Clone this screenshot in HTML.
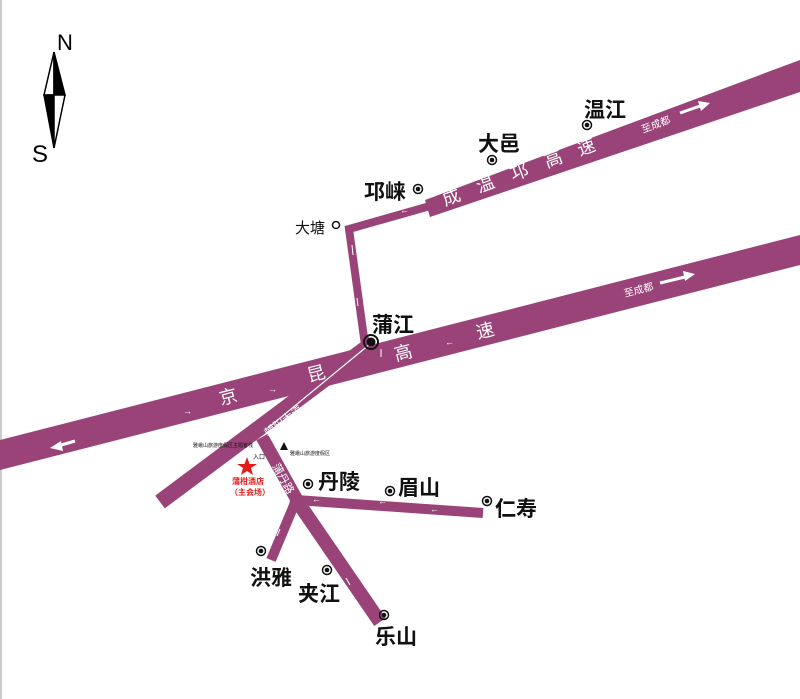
<!DOCTYPE html>
<html><head><meta charset="utf-8"><style>
html,body{margin:0;padding:0;background:#fff;}
svg{display:block;}
text{font-family:"Liberation Sans","Noto Sans CJK SC",sans-serif;}
.b{font-weight:bold;font-size:21px;fill:#111;}
.w{fill:#fff;font-size:18px;}
.ws{fill:#fff;font-size:10px;}
</style></head><body>
<svg width="800" height="699" viewBox="0 0 800 699" xmlns="http://www.w3.org/2000/svg">
<rect x="0" y="0" width="2" height="699" fill="#ccc"/>
<!-- compass -->
<polygon points="54,52 44,95 54,95" fill="#fff" stroke="#000" stroke-width="1.5"/>
<polygon points="54,52 65,95 54,95" fill="#000" stroke="#000" stroke-width="1.5"/>
<polygon points="44,95 54,148 54,95" fill="#000" stroke="#000" stroke-width="1.5"/>
<polygon points="65,95 54,148 54,95" fill="#fff" stroke="#000" stroke-width="1.5"/>
<text x="57" y="50" font-size="22" fill="#000">N</text>
<text x="32" y="162" font-size="24" fill="#000">S</text>
<g fill="#9a4379" stroke="none">
<polygon points="0,440 800,235 800,265 0,470"/>
<polygon points="425,200 800,60 800,92 430,217"/>
</g>
<g stroke="#9a4379" fill="none" stroke-linecap="butt">
<polyline points="430,206 349,229 365,345" stroke-width="8" stroke-linejoin="miter"/>
<line x1="373" y1="343" x2="160" y2="502" stroke-width="16"/>
<line x1="262" y1="437" x2="297" y2="500" stroke-width="13"/>
<line x1="296" y1="500" x2="483" y2="513" stroke-width="10"/>
<line x1="297" y1="498" x2="271" y2="560" stroke-width="10"/>
<line x1="295" y1="498" x2="380" y2="622" stroke-width="14"/>
</g>
<line x1="370" y1="344" x2="268" y2="428" stroke="#fff" stroke-width="1.2"/>
<g class="w">
<text transform="translate(445,206) rotate(-20.5)">成</text>
<text transform="translate(479,193) rotate(-20.5)">温</text>
<text transform="translate(513,181) rotate(-20.5)">邛</text>
<text transform="translate(547,168) rotate(-20.5)">高</text>
<text transform="translate(580,156) rotate(-20.5)">速</text>
<text transform="translate(221,405) rotate(-14.4)">京</text>
<text transform="translate(309,382) rotate(-14.4)">昆</text>
<text transform="translate(396,361) rotate(-14.4)">高</text>
<text transform="translate(478,339) rotate(-14.4)">速</text>
</g>
<g class="ws">
<text transform="translate(643,133) rotate(-20.5)">至成都</text>
<text transform="translate(625,297) rotate(-14.4)">至成都</text>
<text transform="translate(87,460) rotate(-14.4)">至雅安</text>
<text transform="translate(268,437) rotate(-36.7)" font-size="11">朝阳大道</text>
<text transform="translate(272,466) rotate(61)" font-size="11">蒲丹路</text>
</g>
<g stroke="#fff" stroke-width="3" fill="#fff">
<line x1="680" y1="113" x2="700" y2="106"/><polygon points="710,103 698,101 701,111" stroke="none"/>
<line x1="660" y1="283" x2="685" y2="277"/><polygon points="695,274 683,271 685,281" stroke="none"/>
<line x1="75" y1="441" x2="58" y2="446"/><polygon points="50,448 61,441 63,451" stroke="none"/>
</g>
<g fill="#fff" font-size="9">
<text x="400" y="213">←</text><text x="353" y="222">←</text>
<text x="183" y="414">→</text><text x="268" y="392">→</text><text x="445" y="345">←</text>
<text x="378" y="504">←</text><text x="430" y="512">←</text>
<text x="312" y="502">←</text>
</g>
<g stroke="#fff" stroke-width="1" fill="none">
<line x1="352" y1="245" x2="353" y2="255"/><line x1="357" y1="298" x2="358" y2="306"/>
<line x1="381" y1="357" x2="381" y2="349"/>
<line x1="322" y1="392" x2="316" y2="397"/>
<line x1="305" y1="542" x2="310" y2="550"/><line x1="346" y1="578" x2="350" y2="585"/>
<line x1="277" y1="536" x2="280" y2="529"/>
</g>
<g fill="none" stroke="#111" stroke-width="1.5">
<circle cx="587" cy="125" r="4.5"/><circle cx="492" cy="160" r="4.5"/><circle cx="418" cy="189" r="4.5"/>
<circle cx="336" cy="225" r="3.5"/><circle cx="371" cy="342" r="7" stroke-width="2"/>
<circle cx="308" cy="484" r="4.5"/><circle cx="390" cy="491" r="4.5"/><circle cx="487" cy="501" r="4.5"/>
<circle cx="261" cy="551" r="4.5"/><circle cx="327" cy="570" r="4.5"/><circle cx="384" cy="615" r="4.5"/>
</g>
<g fill="#111">
<circle cx="587" cy="125" r="2.3"/><circle cx="492" cy="160" r="2.3"/><circle cx="418" cy="189" r="2.3"/>
<circle cx="371" cy="342" r="4.5"/>
<circle cx="308" cy="484" r="2.3"/><circle cx="390" cy="491" r="2.3"/><circle cx="487" cy="501" r="2.3"/>
<circle cx="261" cy="551" r="2.3"/><circle cx="327" cy="570" r="2.3"/><circle cx="384" cy="615" r="2.3"/>
</g>
<text class="b" x="584" y="117">温江</text>
<text class="b" x="478" y="151">大邑</text>
<text class="b" x="364" y="199">邛崃</text>
<text x="295" y="233" font-size="15" fill="#111">大塘</text>
<text class="b" x="372" y="332">蒲江</text>
<text class="b" x="318" y="489">丹陵</text>
<text class="b" x="398" y="495">眉山</text>
<text class="b" x="495" y="516">仁寿</text>
<text class="b" x="250" y="585">洪雅</text>
<text class="b" x="298" y="601">夹江</text>
<text class="b" x="375" y="644">乐山</text>
<text x="193" y="447" font-size="5" fill="#111">雅峨山旅游度假区主题客栈</text>
<text x="290" y="455" font-size="5" fill="#111">雅峨山旅游度假区</text>
<polygon points="280,450 284,442 288,450" fill="#111"/>
<text x="253" y="459" font-size="6" fill="#111">入口</text>
<polygon points="247,457 249.5,464 257,464 251,468 253,475 247,471 241,475 243,468 237,464 244.5,464" fill="#e21b1b"/>
<text x="232" y="484" font-size="8" font-weight="bold" fill="#e21b1b">蒲柑酒店</text>
<text x="230" y="495" font-size="8" font-weight="bold" fill="#e21b1b">（主会场）</text>
</svg>
</body></html>
